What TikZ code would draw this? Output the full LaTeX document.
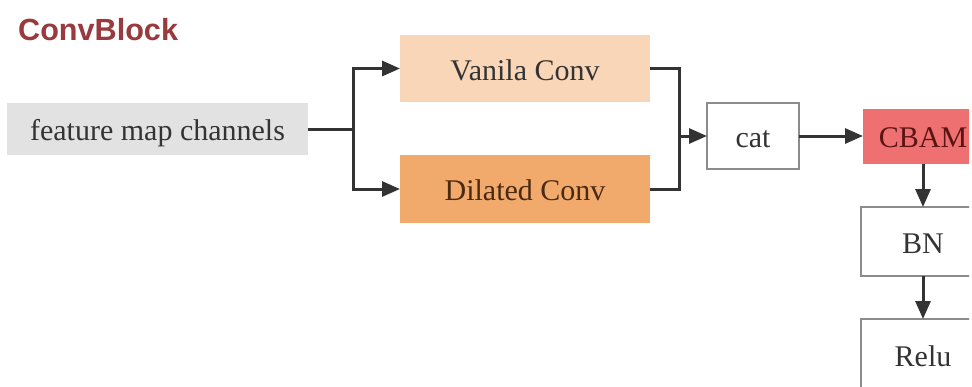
\documentclass[tikz,border=0pt]{standalone}
\usepackage{fontspec}
\setmainfont{Liberation Serif}
\setsansfont{Liberation Sans}
\usetikzlibrary{arrows.meta}
\definecolor{titlered}{HTML}{983A3E}
\definecolor{featgray}{HTML}{E2E2E2}
\definecolor{vanfill}{HTML}{F9D6B8}
\definecolor{dilfill}{HTML}{F2AA6C}
\definecolor{cbamfill}{HTML}{EE7070}
\definecolor{boxgray}{HTML}{8C8C8C}
\definecolor{linedark}{HTML}{333333}
\definecolor{textdark}{HTML}{333333}
\definecolor{diltext}{HTML}{4A2A12}
\definecolor{cbamtext}{HTML}{5A1414}
\begin{document}
\begin{tikzpicture}[x=1pt,y=-1pt,
  blk/.style={inner sep=0pt, outer sep=0pt, font=\fontsize{30}{32}\selectfont, text=textdark, text height=23pt, text depth=0pt},
  plainbox/.style={blk, draw=boxgray, line width=2pt, fill=white},
  conn/.style={draw=linedark, line width=3pt},
  arr/.style={conn, -{Triangle[length=18pt,width=15pt]}}
]
\useasboundingbox (0,0) rectangle (972,386);
\fill[white] (0,0) rectangle (972,386);
\clip (0,0) rectangle (969,386);

\node[anchor=base west, font=\sffamily\bfseries\fontsize{30.6}{32}\selectfont, text=titlered, inner sep=0pt] (title) at (18,40) {ConvBlock};

\node[blk, fill=featgray, minimum width=301pt, minimum height=52pt] (feat) at (157.5,129) {feature map channels};
\node[blk, fill=vanfill, minimum width=250pt, minimum height=67pt] (van) at (525,68.5) {Vanila Conv};
\node[blk, fill=dilfill, minimum width=250pt, minimum height=68pt, text=diltext] (dil) at (525,189) {Dilated Conv};
\node[plainbox, minimum width=92pt, minimum height=66pt] (cat) at (753,136) {cat};
\node[blk, fill=cbamfill, minimum width=120pt, minimum height=55pt, text=cbamtext] (cbam) at (923,136) {CBAM};
\node[plainbox, minimum width=124pt, minimum height=69pt] (bn) at (923,241.5) {BN};
\node[plainbox, minimum width=124pt, minimum height=72pt] (relu) at (923,355) {Relu};

\coordinate (split) at (353,129);
\coordinate (merge) at (679,136);
\draw[conn] (feat.east) -- (split);
\draw[arr] (split) |- (van.west);
\draw[arr] (split) |- (dil.west);
\draw[conn] (van.east) -| (merge);
\draw[conn] (dil.east) -| (merge);
\draw[arr] (merge) -- (cat.west);
\draw[arr] (cat.east) -- (cbam.west);
\draw[arr] (cbam.south) -- (bn.north);
\draw[arr] (bn.south) -- (relu.north);
\end{tikzpicture}
\end{document}
